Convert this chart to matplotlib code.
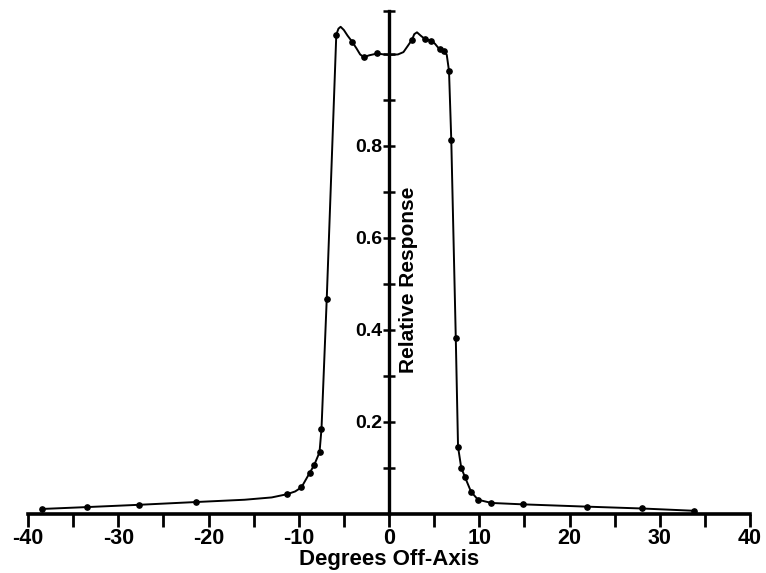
import matplotlib
matplotlib.use("Agg")
import matplotlib.pyplot as plt
from matplotlib.ticker import FixedLocator, NullFormatter

# measured points (dots)
pts_x = [-38.4, -33.5, -27.7, -21.4, -11.3, -9.7, -8.8, -8.3, -7.7, -7.48, -6.9,
         -5.84, -4.1, -2.8, -1.3, 2.55, 4.0, 4.7, 5.6, 6.1, 6.65, 6.9, 7.4, 7.65,
         8.0, 8.4, 9.1, 9.87, 11.35, 14.8, 21.9, 28.0, 33.8]
pts_y = [0.011, 0.015, 0.020, 0.026, 0.043, 0.058, 0.089, 0.106, 0.134, 0.185, 0.467,
         1.042, 1.027, 0.993, 1.001, 1.031, 1.032, 1.029, 1.010, 1.006, 0.963, 0.813, 0.382, 0.146,
         0.101, 0.081, 0.048, 0.031, 0.024, 0.021, 0.016, 0.012, 0.007]

# traced response curve
curve_x = [-38.4, -33.5, -27.7, -21.4, -16.0, -13.0, -11.3, -10.4, -9.7, -8.8, -8.3, -7.7, -7.48, -6.9,
           -5.84, -5.6, -5.36, -5.0, -4.6, -4.1, -3.6, -3.2, -2.8, -2.2, -1.3, -0.6, 0.2,
           1.0, 1.6, 2.1, 2.55, 2.8, 3.1, 3.5, 4.0, 4.7, 5.1, 5.6, 6.1, 6.4, 6.65, 6.9,
           7.4, 7.65, 8.0, 8.4, 9.1, 9.87, 11.35, 14.8, 21.9, 28.0, 33.8]
curve_y = [0.011, 0.015, 0.020, 0.026, 0.031, 0.036, 0.043, 0.049, 0.058, 0.089, 0.106, 0.134, 0.185, 0.467,
           1.042, 1.055, 1.059, 1.052, 1.040, 1.027, 1.012, 0.999, 0.993, 0.997, 1.001, 0.999, 0.998,
           0.999, 1.004, 1.018, 1.031, 1.043, 1.047, 1.040, 1.032, 1.029, 1.022, 1.010, 1.006, 0.998, 0.963, 0.813,
           0.382, 0.146, 0.101, 0.081, 0.048, 0.031, 0.024, 0.021, 0.016, 0.012, 0.007]

x_major = [-40, -35, -30, -25, -20, -15, -10, -5, 0, 5, 10, 15, 20, 25, 30, 35, 40]
x_labels = ["-40", "", "-30", "", "-20", "", "-10", "", "0", "", "10", "", "20", "", "30", "", "40"]
y_major = [0.2, 0.4, 0.6, 0.8]
y_labels = ["0.2", "0.4", "0.6", "0.8"]
y_minor = [0.1, 0.3, 0.5, 0.7, 0.9, 1.0, 1.094]

FONT = ["Liberation Sans", "DejaVu Sans"]

fig = plt.figure(figsize=(7.66, 5.73), dpi=100)
ax = fig.add_axes([28/766, 1 - 514/573, 722/766, (514 - 10.7)/573])

ax.plot(curve_x, curve_y, color="black", lw=1.4, zorder=3)
ax.plot(pts_x, pts_y, "o", color="black", ms=3.8, zorder=4)

ax.set_xlim(-40, 40)
ax.set_ylim(0, 1.094)

for s in ["top", "right"]:
    ax.spines[s].set_visible(False)
ax.spines["left"].set_position(("data", 0))
ax.spines["left"].set_linewidth(2.4)
ax.spines["bottom"].set_linewidth(2.6)
ax.spines["bottom"].set_zorder(2)

ax.set_xticks(x_major)
ax.set_xticklabels(x_labels, fontfamily=FONT, fontweight="bold", fontsize=15.5)
ax.tick_params(axis="x", direction="out", length=9, width=2.0, pad=1)

ax.yaxis.set_major_locator(FixedLocator(y_major))
ax.set_yticklabels(y_labels, fontfamily=FONT, fontweight="bold", fontsize=14)
ax.yaxis.set_minor_locator(FixedLocator(y_minor))
ax.yaxis.set_minor_formatter(NullFormatter())
ax.tick_params(axis="y", which="both", direction="inout", length=9, width=1.8, pad=0)

ax.set_xlabel("Degrees Off-Axis", fontfamily=FONT, fontweight="bold", fontsize=16, labelpad=0)
ax.text(2.2, 0.51, "Relative Response", rotation=90, ha="center", va="center",
        fontfamily=FONT, fontweight="bold", fontsize=15)

fig.savefig("out.png", dpi=100)
